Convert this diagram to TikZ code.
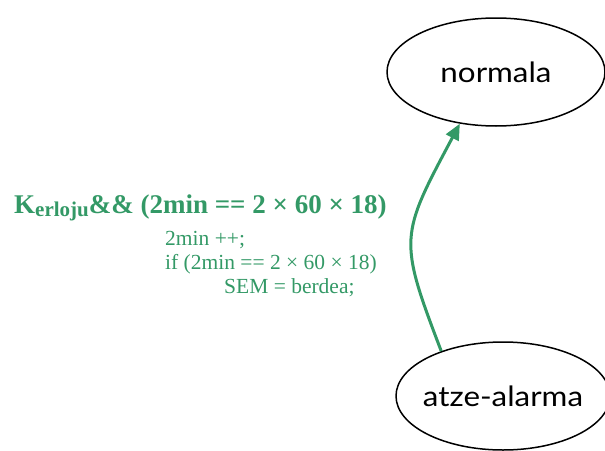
\documentclass[tikz,border=0pt]{standalone}
\usepackage{fontspec}
\setmainfont{Liberation Serif}
\newfontfamily\handfont[FakeStretch=1.12]{Lato}
\usetikzlibrary{shapes.geometric,arrows.meta}
\definecolor{lblgreen}{RGB}{51,153,102}
\begin{document}
\begin{tikzpicture}[x=1pt,y=-1pt,
  state/.style={ellipse,draw=black,line width=1.5pt,inner sep=0pt,
    font=\handfont\fontsize{28}{32}\selectfont},
  trans/.style={draw=lblgreen,line width=3pt,-{Triangle[length=16pt,width=14pt]}},
  lbl/.style={anchor=base west,inner sep=0pt,text=lblgreen,
    font=\fontsize{21.5}{24}\selectfont},
  biglbl/.style={anchor=base west,inner sep=0pt,text=lblgreen,
    font=\fontsize{27}{30}\selectfont\bfseries}]
\useasboundingbox (0,0) rectangle (605,450);
\node[state,minimum width=218pt,minimum height=108pt] (normala) at (496,72) {\makebox[0pt]{normala}};
\node[state,minimum width=214pt,minimum height=108pt] (alarm) at (503,396) {\makebox[0pt]{atze-alarma}};
\draw[trans] (alarm.144) .. controls (398,238) and (400,236) .. (normala.235);
\node[biglbl] (cond) at (14,213) {K\raisebox{-3pt}{\fontsize{21}{24}\selectfont erloju}\&\& (2min == 2 × 60 × 18)};
\node[lbl] (act1) at (165,245) {2min ++;};
\node[lbl] (act2) at (165,269) {if (2min == 2 × 60 × 18)};
\node[lbl] (act3) at (224,293) {SEM = berdea;};
\end{tikzpicture}
\end{document}
